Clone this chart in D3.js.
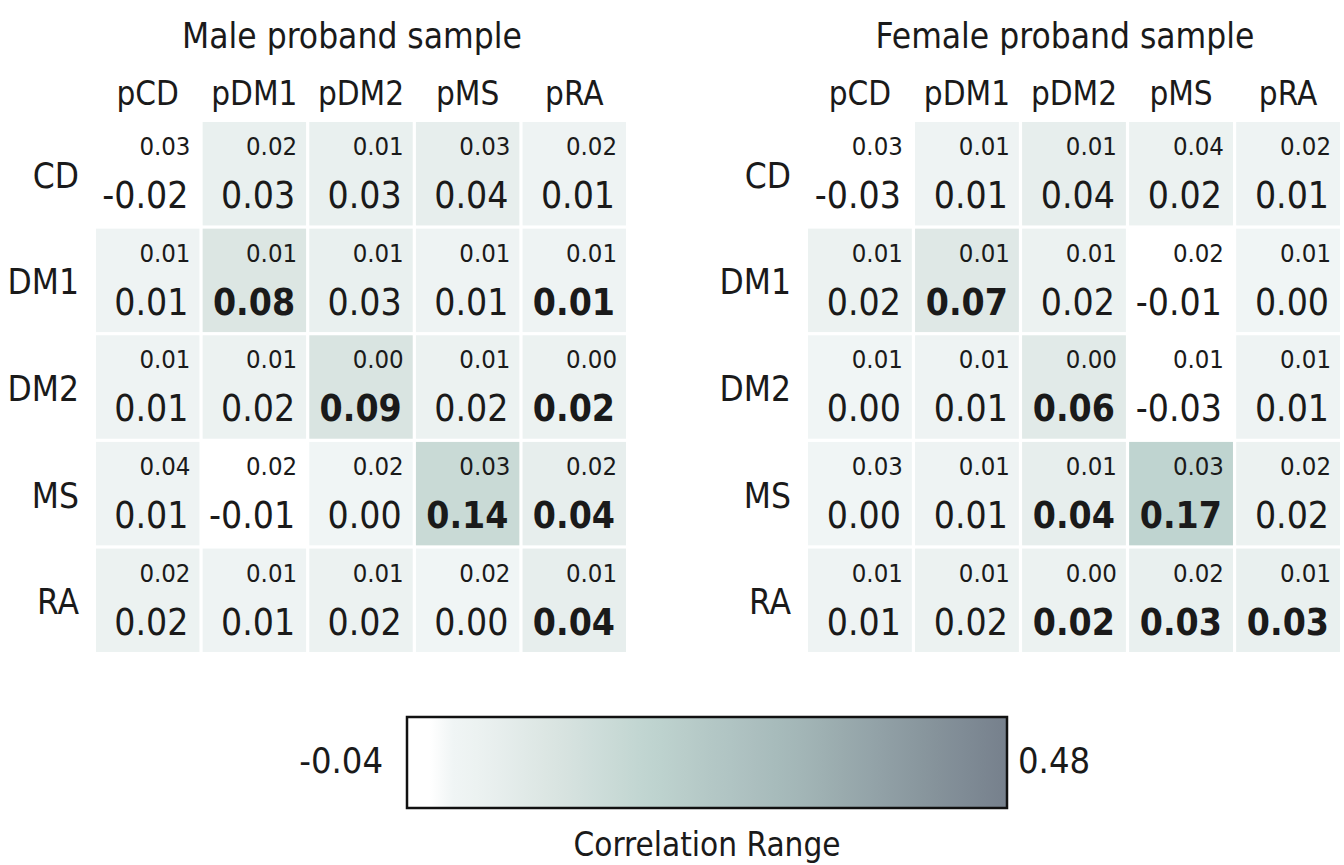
<!DOCTYPE html>
<html>
<head>
<meta charset="utf-8">
<script src="https://cdn.jsdelivr.net/npm/d3@7"></script>
<style>
  body { margin: 0; background: #fff; }
  svg text { font-family: "DejaVu Sans Condensed", "Liberation Sans Narrow", "Noto Sans", sans-serif; fill: #1a1a1a; }
</style>
</head>
<body>
<div id="chart"></div>
<script>
const rowLabels = ['CD', 'DM1', 'DM2', 'MS', 'RA'];
const colLabels = ['pCD', 'pDM1', 'pDM2', 'pMS', 'pRA'];

// correlation estimates (rows = relative's disorder, cols = proband's)
const maleCorr = [
  [-0.02, 0.03, 0.03, 0.04, 0.01],
  [0.01, 0.08, 0.03, 0.01, 0.01],
  [0.01, 0.02, 0.09, 0.02, 0.02],
  [0.01, -0.01, 0.00, 0.14, 0.04],
  [0.02, 0.01, 0.02, 0.00, 0.04]
];
const maleSE = [
  [0.03, 0.02, 0.01, 0.03, 0.02],
  [0.01, 0.01, 0.01, 0.01, 0.01],
  [0.01, 0.01, 0.00, 0.01, 0.00],
  [0.04, 0.02, 0.02, 0.03, 0.02],
  [0.02, 0.01, 0.01, 0.02, 0.01]
];
const maleBold = [
  [0, 0, 0, 0, 0],
  [0, 1, 0, 0, 1],
  [0, 0, 1, 0, 1],
  [0, 0, 0, 1, 1],
  [0, 0, 0, 0, 1]
];

const femaleCorr = [
  [-0.03, 0.01, 0.04, 0.02, 0.01],
  [0.02, 0.07, 0.02, -0.01, 0.00],
  [0.00, 0.01, 0.06, -0.03, 0.01],
  [0.00, 0.01, 0.04, 0.17, 0.02],
  [0.01, 0.02, 0.02, 0.03, 0.03]
];
const femaleSE = [
  [0.03, 0.01, 0.01, 0.04, 0.02],
  [0.01, 0.01, 0.01, 0.02, 0.01],
  [0.01, 0.01, 0.00, 0.01, 0.01],
  [0.03, 0.01, 0.01, 0.03, 0.02],
  [0.01, 0.01, 0.00, 0.02, 0.01]
];
const femaleBold = [
  [0, 0, 0, 0, 0],
  [0, 1, 0, 0, 0],
  [0, 0, 1, 0, 0],
  [0, 0, 1, 1, 0],
  [0, 0, 1, 1, 1]
];

const legendRange = [-0.04, 0.48];

const width = 1344, height = 865;
const svg = d3.select('#chart').append('svg')
  .attr('width', width)
  .attr('height', height);

// colour ramp
const color = d3.scaleLinear()
  .domain([-0.04, -0.005, 0.0, 0.04, 0.09, 0.17, 0.3, 0.48])
  .range(['#ffffff', '#ffffff', '#f0f5f5', '#e7eeed', '#d9e4e1', '#bfd4d0', '#a3b6b7', '#76808c'])
  .clamp(true);

// short minus so negatives fit the cells like the original
const locale = d3.formatLocale({ decimal: '.', thousands: ',', grouping: [3], currency: ['', ''], minus: '-' });
const fmt = locale.format('.2f');

function panel(title, corr, se, bold, x0, x1) {
  const top = 122, bottom = 652;
  const x = d3.scaleBand().domain(colLabels).range([x0, x1]).paddingInner(0.03);
  const y = d3.scaleBand().domain(rowLabels).range([top, bottom]).paddingInner(0.03);
  const g = svg.append('g');

  g.append('text')
    .attr('x', (x0 + x1) / 2 - 9)
    .attr('y', 48)
    .attr('text-anchor', 'middle')
    .attr('font-size', 35)
    .text(title);

  g.selectAll('.col').data(colLabels).join('text')
    .attr('class', 'col')
    .attr('x', d => x(d) + x.bandwidth() / 2)
    .attr('y', 105)
    .attr('text-anchor', 'middle')
    .attr('font-size', 33)
    .text(d => d);

  g.selectAll('.row').data(rowLabels).join('text')
    .attr('class', 'row')
    .attr('x', x0 - 17)
    .attr('y', d => y(d) + y.bandwidth() / 2 + 4)
    .attr('text-anchor', 'end')
    .attr('dominant-baseline', 'middle')
    .attr('font-size', 35)
    .text(d => d);

  const cells = [];
  rowLabels.forEach((r, i) => colLabels.forEach((c, j) => {
    cells.push({ r, c, v: corr[i][j], se: se[i][j], b: bold[i][j] });
  }));

  const cg = g.selectAll('.cell').data(cells).join('g')
    .attr('class', 'cell')
    .attr('transform', d => `translate(${x(d.c)},${y(d.r)})`);

  cg.append('rect')
    .attr('width', x.bandwidth())
    .attr('height', y.bandwidth())
    .attr('fill', d => color(d.v));

  cg.append('text')
    .attr('x', x.bandwidth() - 9)
    .attr('y', 33)
    .attr('text-anchor', 'end')
    .attr('font-size', 25.5)
    .text(d => fmt(d.se));

  cg.append('text')
    .attr('x', x.bandwidth() - 11)
    .attr('y', 86)
    .attr('text-anchor', 'end')
    .attr('font-size', 37)
    .attr('font-weight', d => d.b ? 'bold' : 'normal')
    .text(d => fmt(d.v));
}

panel('Male proband sample', maleCorr, maleSE, maleBold, 96, 626);
panel('Female proband sample', femaleCorr, femaleSE, femaleBold, 808, 1340);

// legend
const lx0 = 407, lx1 = 1007, ly = 717, lh = 91;
const defs = svg.append('defs');
const grad = defs.append('linearGradient').attr('id', 'grad');
const ls = d3.scaleLinear().domain(legendRange).range([0, 100]);
d3.range(0, 27).map(i => legendRange[0] + i * (legendRange[1] - legendRange[0]) / 26).forEach(v => {
  grad.append('stop').attr('offset', ls(v) + '%').attr('stop-color', color(v));
});

svg.append('rect')
  .attr('x', lx0).attr('y', ly)
  .attr('width', lx1 - lx0).attr('height', lh)
  .attr('fill', 'url(#grad)')
  .attr('stroke', '#111')
  .attr('stroke-width', 2.5);

svg.append('text')
  .attr('x', lx0 - 24).attr('y', ly + lh / 2)
  .attr('text-anchor', 'end')
  .attr('dominant-baseline', 'middle')
  .attr('font-size', 36)
  .text(fmt(legendRange[0]));

svg.append('text')
  .attr('x', lx1 + 11).attr('y', ly + lh / 2)
  .attr('dominant-baseline', 'middle')
  .attr('font-size', 36)
  .text(fmt(legendRange[1]));

svg.append('text')
  .attr('x', (lx0 + lx1) / 2).attr('y', 856)
  .attr('text-anchor', 'middle')
  .attr('font-size', 33)
  .text('Correlation Range');
</script>
</body>
</html>
